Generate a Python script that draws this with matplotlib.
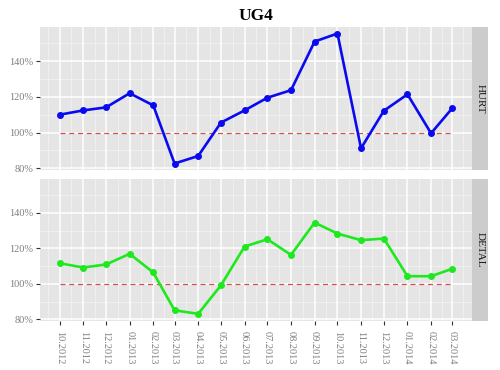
import matplotlib
matplotlib.use("Agg")
import matplotlib.pyplot as plt
import matplotlib.dates as mdates
import pandas as pd
import numpy as np

months = ['10.2012', '11.2012', '12.2012', '01.2013', '02.2013', '03.2013',
          '04.2013', '05.2013', '06.2013', '07.2013', '08.2013', '09.2013',
          '10.2013', '11.2013', '12.2013', '01.2014', '02.2014', '03.2014']
hurt = [110.0, 112.4, 114.1, 122.0, 115.2, 82.7, 86.9, 105.6, 112.4,
        119.5, 123.7, 150.9, 155.4, 91.2, 112.2, 121.4, 99.6, 113.7]
detal = [111.6, 109.2, 110.9, 116.9, 106.4, 85.1, 83.1, 99.2, 121.0,
         125.1, 116.3, 134.5, 128.3, 124.6, 125.5, 104.3, 104.3, 108.5]
panels = ['HURT', 'DETAL']
colors = ['#0a0af0', '#1ee81e']
ref_level = 100
y_ticks = [80, 100, 120, 140]

dates = pd.to_datetime(months, format='%m.%Y')
x = mdates.date2num(dates)

serif = ['Liberation Serif', 'DejaVu Serif']
plt.rcParams['font.family'] = serif

fig = plt.figure(figsize=(5, 3.7), dpi=100)
fig.text(0.512, 0.958, 'UG4', ha='center', va='center', fontsize=12.5,
         fontweight='bold')

lo = min(min(hurt), min(detal))
hi = max(max(hurt), max(detal))
pad = (hi - lo) * 0.05
ylim = (lo - pad, hi + pad)
xpad = (x[-1] - x[0]) * 0.05
xlim = (x[0] - xpad, x[-1] + xpad)

mids = (x[:-1] + x[1:]) / 2
minor_x = np.concatenate([[x[0] - (mids[0] - x[0])], mids,
                          [x[-1] + (x[-1] - mids[-1])]])
minor_y = [90, 110, 130, 150]

rects = [[0.08, 0.5405, 0.864, 0.3865], [0.08, 0.1324, 0.864, 0.3838]]
series = [hurt, detal]

for i, name in enumerate(panels):
    ax = fig.add_axes(rects[i])
    ax.set_facecolor('#e5e5e5')
    for s in ax.spines.values():
        s.set_visible(False)
    for mx in minor_x:
        ax.axvline(mx, color='#f2f2f2', lw=0.6, zorder=0)
    for my in minor_y:
        ax.axhline(my, color='#f2f2f2', lw=0.6, zorder=0)
    for xx in x:
        ax.axvline(xx, color='white', lw=1.1, zorder=0.5)
    for yy in y_ticks:
        ax.axhline(yy, color='white', lw=1.1, zorder=0.5)

    ax.plot([x[0], x[-1]], [ref_level, ref_level], color='#d05050', lw=0.9,
            dashes=(4, 3), zorder=2)
    ax.plot(x, series[i], color=colors[i], lw=1.9, marker='o', ms=4.0,
            zorder=3)

    ax.set_xlim(xlim)
    ax.set_ylim(ylim)
    ax.set_yticks(y_ticks)
    ax.set_yticklabels([f'{v}%' for v in y_ticks])
    ax.set_xticks(x)
    ax.tick_params(axis='y', length=3, width=0.8, color='#333333',
                   labelcolor='#7f7f7f', labelsize=7.5, pad=2)
    if i == 0:
        ax.tick_params(axis='x', length=0, labelbottom=False)
    else:
        ax.set_xticklabels(months, rotation=270)
        ax.tick_params(axis='x', length=3, width=0.8, color='#333333',
                       labelcolor='#7f7f7f', labelsize=7.5, pad=4)
    ax.grid(False)

    r = rects[i]
    sax = fig.add_axes([r[0] + r[2], r[1], 0.032, r[3]])
    sax.set_facecolor('#cccccc')
    sax.set_xticks([])
    sax.set_yticks([])
    for s in sax.spines.values():
        s.set_visible(False)
    sax.text(0.5, 0.5, name, rotation=270, ha='center', va='center',
             fontsize=8, transform=sax.transAxes, color='#1a1a1a')

fig.savefig('out.png', dpi=100)
